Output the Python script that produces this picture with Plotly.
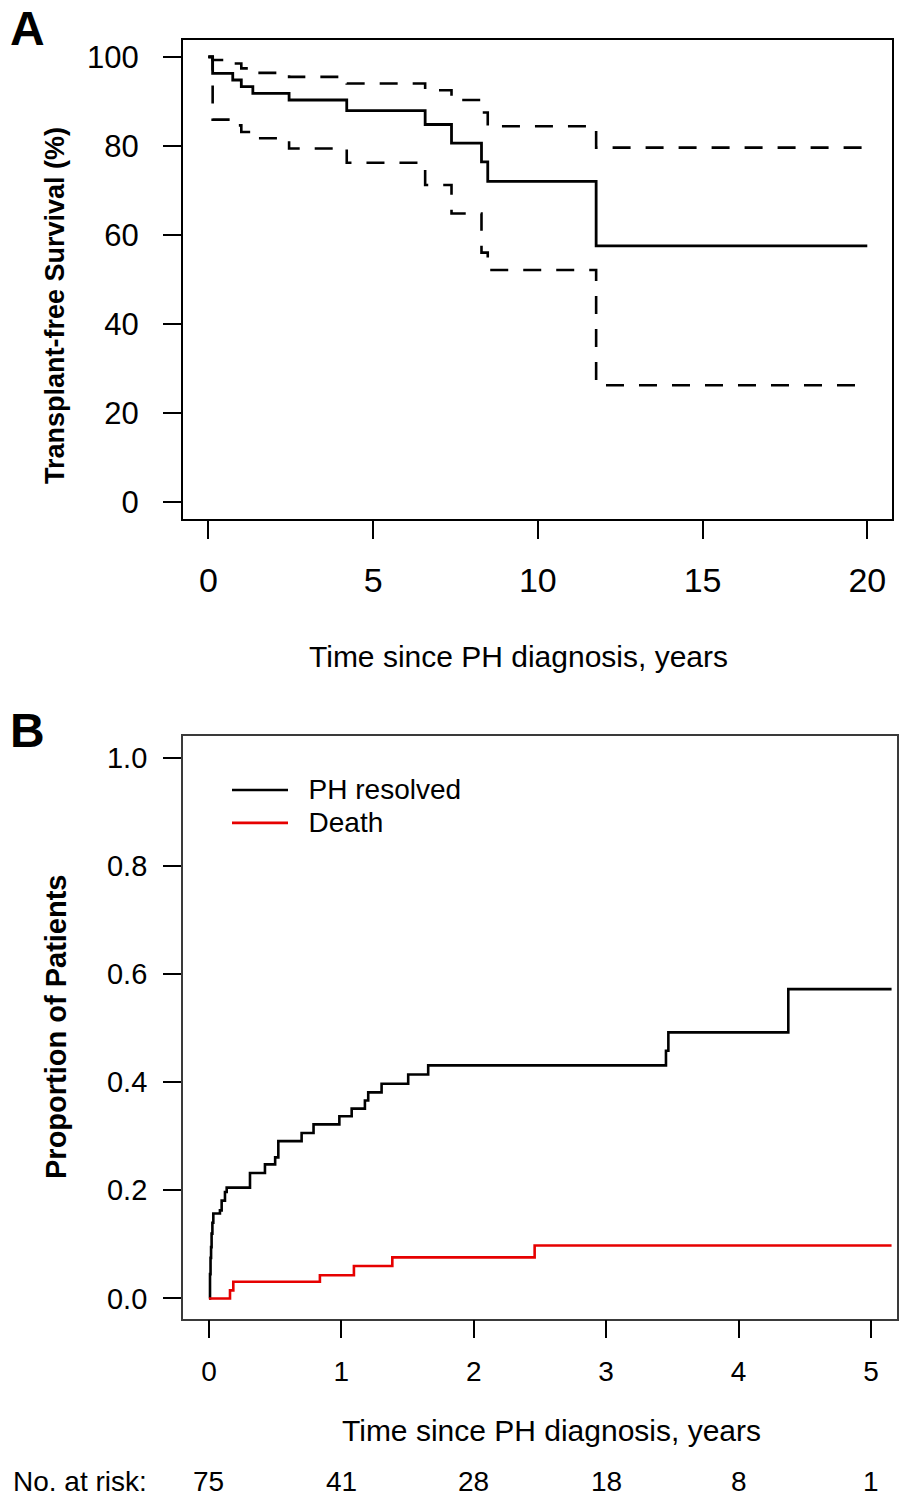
import plotly.graph_objects as go

# ---------------- Panel A data (Kaplan-Meier, transplant-free survival) ----------------
a_time = [0, 0.13, 0.74, 1.0, 1.35, 2.45, 4.2, 6.58, 7.38, 8.29, 8.48, 11.77, 20]
a_surv = [100, 96.3, 94.8, 93.3, 91.8, 90.3, 87.9, 84.8, 80.6, 76.4, 72.0, 57.5, 57.5]
a_upper = [100, 99.3, 98.5, 97.4, 96.4, 95.5, 94.0, 92.5, 90.3, 87.5, 84.4, 79.6, 79.6]
a_lower = [100, 85.9, 84.6, 83.1, 81.7, 79.4, 76.2, 71.2, 64.8, 56.0, 52.1, 26.2, 26.2]
a_xticks = [0, 5, 10, 15, 20]
a_yticks = [0, 20, 40, 60, 80, 100]

# ---------------- Panel B data (cumulative incidence) ----------------
b_res_time = [0, 0.008, 0.012, 0.016, 0.02, 0.026, 0.033, 0.083, 0.096, 0.121, 0.134,
              0.31, 0.423, 0.5, 0.524, 0.70, 0.79, 0.985, 1.078, 1.178, 1.203, 1.304,
              1.505, 1.656, 3.452, 3.47, 4.376, 5.156]
b_res_prop = [0, 0.045, 0.075, 0.095, 0.12, 0.14, 0.157, 0.163, 0.181, 0.197, 0.205,
              0.232, 0.248, 0.261, 0.291, 0.306, 0.322, 0.337, 0.351, 0.366, 0.381, 0.397,
              0.414, 0.431, 0.458, 0.492, 0.572, 0.572]
b_death_time = [0, 0.159, 0.184, 0.838, 1.095, 1.385, 2.46, 5.156]
b_death_prop = [0, 0.015, 0.031, 0.043, 0.060, 0.076, 0.098, 0.098]
b_xticks = [0, 1, 2, 3, 4, 5]
b_yticks = [0, 0.2, 0.4, 0.6, 0.8, 1.0]
risk_times = [0, 1, 2, 3, 4, 5]
risk_counts = [75, 41, 28, 18, 8, 1]
legend_names = ["PH resolved", "Death"]

W, H = 904, 1500
FONT = "Liberation Sans, Arial, sans-serif"


def px_x(p):
    return p / W


def px_y(p):
    return 1 - p / H


def legend_label(s):
    return "<span style='font-size:28px'>&nbsp;&nbsp;" + s + "</span>"


fig = go.Figure()

dash = "18px,15px"
fig.add_trace(go.Scatter(x=a_time, y=a_upper, mode="lines", line=dict(color="black", width=2.6, dash=dash, shape="hv"),
                         xaxis="x", yaxis="y", showlegend=False, hoverinfo="skip"))
fig.add_trace(go.Scatter(x=a_time, y=a_lower, mode="lines", line=dict(color="black", width=2.6, dash=dash, shape="hv"),
                         xaxis="x", yaxis="y", showlegend=False, hoverinfo="skip"))
fig.add_trace(go.Scatter(x=a_time, y=a_surv, mode="lines", line=dict(color="black", width=2.8, shape="hv"),
                         xaxis="x", yaxis="y", showlegend=False))

fig.add_trace(go.Scatter(x=b_res_time, y=b_res_prop, mode="lines", name=legend_label(legend_names[0]),
                         line=dict(color="black", width=2.6, shape="hv"), xaxis="x2", yaxis="y2"))
fig.add_trace(go.Scatter(x=b_death_time, y=b_death_prop, mode="lines", name=legend_label(legend_names[1]),
                         line=dict(color="#e60000", width=2.6, shape="hv"), xaxis="x2", yaxis="y2"))

axis_common = dict(showgrid=False, zeroline=False, showline=True, mirror=True,
                   ticks="outside", ticklen=18, tickwidth=1.6, tickcolor="black")

fig.update_layout(
    width=W, height=H,
    margin=dict(l=0, r=0, t=0, b=0),
    paper_bgcolor="white", plot_bgcolor="white",
    font=dict(family=FONT, color="black"),
    xaxis=dict(domain=[px_x(183), px_x(892)], range=[-0.77, 20.75], tickvals=a_xticks,
               linecolor="black", linewidth=2, anchor="y", ticklabelstandoff=13,
               tickfont=dict(family=FONT, size=34, color="black"), **axis_common),
    yaxis=dict(domain=[px_y(518.5), px_y(39.5)], range=[-3.75, 103.9], tickvals=a_yticks,
               linecolor="black", linewidth=2, anchor="x", ticklabelstandoff=18,
               tickfont=dict(family=FONT, size=31, color="black"), **axis_common),
    xaxis2=dict(domain=[px_x(183), px_x(897)], range=[-0.196, 5.197], tickvals=b_xticks,
                linecolor="#3a3a3a", linewidth=1.8, anchor="y2", ticklabelstandoff=9,
                tickfont=dict(family=FONT, size=28, color="black"), **axis_common),
    yaxis2=dict(domain=[px_y(1318.5), px_y(736)], range=[-0.037, 1.04], tickvals=b_yticks,
                tickformat=".1f", linecolor="#3a3a3a", linewidth=1.8, anchor="x2",
                ticklabelstandoff=10, tickfont=dict(family=FONT, size=29, color="black"),
                **axis_common),
    showlegend=True,
    legend=dict(x=px_x(227), y=px_y(768.5), xanchor="left", yanchor="top",
                bgcolor="rgba(0,0,0,0)", font=dict(family=FONT, size=23, color="black"),
                tracegroupgap=0, itemwidth=56),
)

ann = []
ann.append(dict(text="<b>A</b>", x=px_x(8), y=1.0, xref="paper", yref="paper",
                xanchor="left", yanchor="top", showarrow=False, font=dict(size=48, family=FONT)))
ann.append(dict(text="<b>B</b>", x=px_x(8), y=px_y(730), xref="paper", yref="paper",
                xanchor="left", yanchor="middle", showarrow=False, font=dict(size=48, family=FONT)))
ann.append(dict(text="<b>Transplant-free Survival (%)</b>", x=px_x(55), y=px_y(306), xref="paper", yref="paper",
                xanchor="center", yanchor="middle", textangle=-90, showarrow=False, font=dict(size=27, family=FONT)))
ann.append(dict(text="<b>Proportion of Patients</b>", x=px_x(56), y=px_y(1027), xref="paper", yref="paper",
                xanchor="center", yanchor="middle", textangle=-90, showarrow=False, font=dict(size=29, family=FONT)))
ann.append(dict(text="Time since PH diagnosis, years", x=px_x(518), y=px_y(656), xref="paper", yref="paper",
                xanchor="center", yanchor="middle", showarrow=False, font=dict(size=30, family=FONT)))
ann.append(dict(text="Time since PH diagnosis, years", x=px_x(551), y=px_y(1430), xref="paper", yref="paper",
                xanchor="center", yanchor="middle", showarrow=False, font=dict(size=30, family=FONT)))
ann.append(dict(text="No. at risk:", x=px_x(11), y=px_y(1481), xref="paper", yref="paper",
                xanchor="left", yanchor="middle", showarrow=False, font=dict(size=28, family=FONT)))
for t, n in zip(risk_times, risk_counts):
    ann.append(dict(text=str(n), x=t, y=px_y(1481), xref="x2", yref="paper",
                    xanchor="center", yanchor="middle", showarrow=False, font=dict(size=28, family=FONT)))
fig.update_layout(annotations=ann)

fig.write_html("out.html", config={"displayModeBar": False},
               post_script="document.body.style.margin='0';")
